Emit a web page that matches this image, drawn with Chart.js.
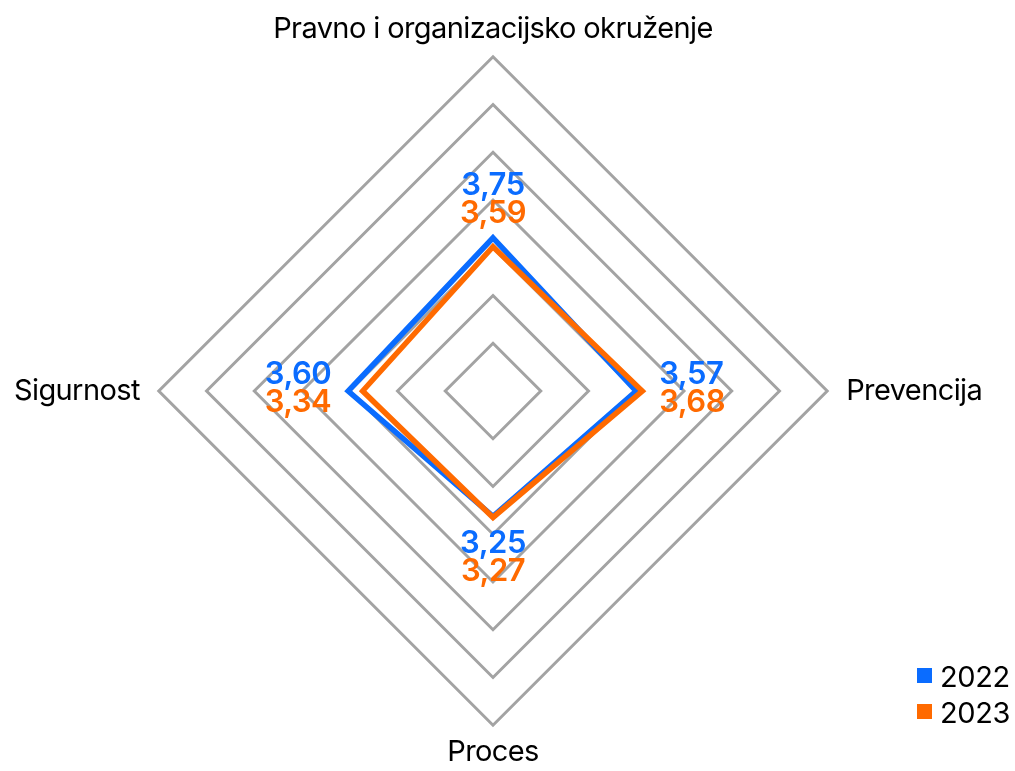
<!DOCTYPE html>
<html><head><meta charset="utf-8">
<script src="https://cdn.jsdelivr.net/npm/chart.js@4/dist/chart.umd.min.js"></script>
<style>html,body{margin:0;padding:0;background:#fff}#wrap{width:1015px;height:771px;position:relative}</style>
</head><body><div id="wrap"><canvas id="c"></canvas></div>
<script>
const categories = ['Pravno i organizacijsko okruženje', 'Prevencija', 'Proces', 'Sigurnost'];
const seriesNames = ['2022', '2023'];
const values2022 = [3.75, 3.57, 3.25, 3.60];
const values2023 = [3.59, 3.68, 3.27, 3.34];
const seriesColors = ['#0a6cff', '#ff6a00'];
const scaleMin = 1, scaleMax = 7, gridRings = 7;

const fmt = v => v.toFixed(2).replace('.', ',');

const spacing = {
  id: 'spacing',
  beforeDraw(chart) { chart.ctx.letterSpacing = '-0.6px'; }
};

const valueLabels = {
  id: 'valueLabels',
  afterDatasetsDraw(chart) {
    const ctx = chart.ctx, r = chart.scales.r;
    ctx.save();
    ctx.font = '600 31px Inter';
    ctx.letterSpacing = '-0.5px';
    ctx.textBaseline = 'alphabetic';
    const n = chart.data.labels.length;
    const lh = 28;
    for (let i = 0; i < n; i++) {
      const vals = chart.data.datasets.map(d => d.data[i]);
      const vmax = Math.max(...vals);
      const p = r.getPointPositionForValue(i, vmax);
      const ang = r.getIndexAngle(i) - Math.PI / 2;
      const dx = Math.round(Math.cos(ang)), dy = Math.round(Math.sin(ang));
      let x = p.x, ys;
      if (dy < 0) { ys = [p.y - 15 - lh, p.y - 15]; ctx.textAlign = 'center'; }
      else if (dy > 0) { ys = [p.y + 36, p.y + 36 + lh]; ctx.textAlign = 'center'; }
      else { ys = [r.yCenter - 7, r.yCenter + 21]; ctx.textAlign = dx > 0 ? 'left' : 'right'; x = p.x + dx * 17; }
      chart.data.datasets.forEach((d, k) => {
        ctx.fillStyle = d.borderColor;
        ctx.fillText(fmt(d.data[i]), x, ys[k]);
      });
    }
    ctx.restore();
  }
};

const cornerLegend = {
  id: 'cornerLegend',
  afterDraw(chart) {
    const ctx = chart.ctx;
    ctx.save();
    ctx.font = '400 29px Inter';
    ctx.letterSpacing = '-0.4px';
    ctx.textBaseline = 'alphabetic';
    ctx.textAlign = 'left';
    chart.data.datasets.forEach((d, k) => {
      const y = 676 + k * 36;
      ctx.fillStyle = d.borderColor;
      ctx.fillRect(917, y - 8, 15, 15);
      ctx.fillStyle = '#000';
      ctx.fillText(d.label, 940, y + 11);
    });
    ctx.restore();
  }
};

new Chart(document.getElementById('c'), {
  type: 'radar',
  data: {
    labels: categories,
    datasets: [
      { label: seriesNames[0], data: values2022, borderColor: seriesColors[0], backgroundColor: 'transparent', fill: false, borderWidth: 5.5, pointRadius: 0, pointHoverRadius: 0, borderJoinStyle: 'miter', order: 1 },
      { label: seriesNames[1], data: values2023, borderColor: seriesColors[1], backgroundColor: 'transparent', fill: false, borderWidth: 5.5, pointRadius: 0, pointHoverRadius: 0, borderJoinStyle: 'miter', order: 0 }
    ]
  },
  options: {
    responsive: true,
    maintainAspectRatio: false,
    animation: false,
    layout: { padding: { top: 12, right: 17, bottom: -3, left: 0 } },
    plugins: { legend: { display: false }, tooltip: { enabled: false } },
    scales: {
      r: {
        min: scaleMin,
        max: scaleMax,
        afterBuildTicks(s) {
          const t = [];
          for (let k = 0; k <= gridRings; k++) t.push({ value: scaleMin + k * (scaleMax - scaleMin) / gridRings });
          s.ticks = t;
        },
        ticks: { display: false },
        angleLines: { display: false },
        grid: { color: '#a3a3a3', lineWidth: 3, circular: false },
        pointLabels: {
          font: { family: 'Inter', size: 29, weight: '400' },
          color: '#000',
          padding: ctx => (ctx.index % 2 === 1 ? 19 : 10)
        }
      }
    }
  },
  plugins: [spacing, valueLabels, cornerLegend]
});
</script>
</body></html>
